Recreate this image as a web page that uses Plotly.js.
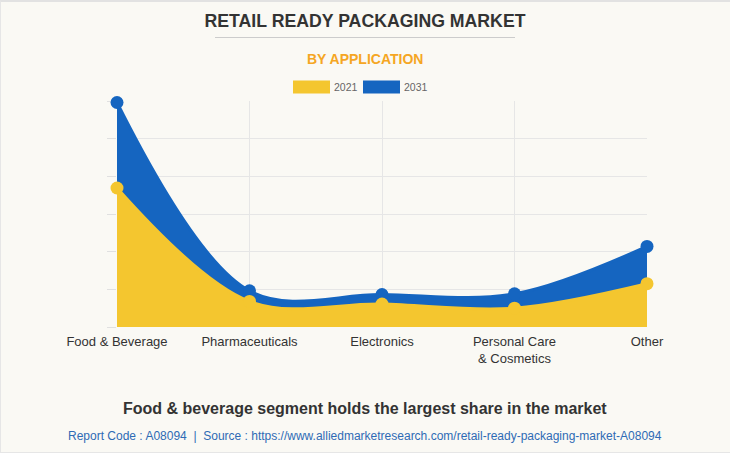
<!DOCTYPE html>
<html>
<head>
<meta charset="utf-8">
<script src="https://cdn.plot.ly/plotly-3.0.1.min.js"></script>
<style>
  html, body { margin: 0; padding: 0; background: #FAF9F4; }
  #wrap { position: relative; width: 730px; height: 453px; }
  #chart { width: 730px; height: 453px; }
  #frame { position: absolute; left: 0; top: 0; width: 730px; height: 453px; box-sizing: border-box;
           border-top: 2px solid #e2e2e2; border-left: 1px solid #e6e6e6; border-bottom: 1px solid #e6e6e6;
           pointer-events: none; }
</style>
</head>
<body>
<div id="wrap"><div id="chart"></div><div id="frame"></div></div>
<script>
const categories = ['Food & Beverage', 'Pharmaceuticals', 'Electronics', 'Personal Care<br>& Cosmetics', 'Other'];
const seriesNames = ['2021', '2031'];
const values2021 = [3.69, 0.68, 0.61, 0.50, 1.15];
const values2031 = [5.96, 0.96, 0.86, 0.88, 2.14];
const colors = { '2021': '#F4C62F', '2031': '#1565C0' };

const W = 730, H = 453;
const M = { l: 117, r: 83, t: 101, b: 126 };
const PW = W - M.l - M.r, PH = H - M.t - M.b;
const px = x => (x - M.l) / PW;
const py = y => (H - M.b - y) / PH;

const FONT = 'Liberation Sans, Arial, sans-serif';

function trace(name, vals) {
  return {
    type: 'scatter', mode: 'lines+markers', name: name,
    x: categories, y: vals,
    line: { shape: 'spline', smoothing: 1, color: colors[name], width: 3 },
    marker: { size: 13, color: colors[name] },
    fill: 'tozeroy', fillcolor: colors[name],
    cliponaxis: false, showlegend: false, hoverinfo: 'x+y'
  };
}

const data = [trace('2031', values2031), trace('2021', values2021)];

const legendItems = [
  { name: seriesNames[0], x0: 293, x1: 330, tx: 332 },
  { name: seriesNames[1], x0: 363, x1: 400, tx: 402 }
];

const shapes = [
  { type: 'line', xref: 'paper', yref: 'paper', x0: px(215), x1: px(515), y0: py(37.5), y1: py(37.5),
    line: { color: '#cccccc', width: 1 } }
];
const annotations = [
  { text: '<b>BY APPLICATION</b>', xref: 'paper', yref: 'paper', x: px(365), y: py(58.5),
    xanchor: 'center', yanchor: 'middle', showarrow: false,
    font: { family: FONT, size: 14, color: '#F5A623' } },
  { text: '<b>Food & beverage segment holds the largest share in the market</b>', xref: 'paper', yref: 'paper',
    x: px(365), y: py(408), xanchor: 'center', yanchor: 'middle', showarrow: false,
    font: { family: FONT, size: 16, color: '#333333' } },
  { text: 'Report Code : A08094  |  Source : https://www.alliedmarketresearch.com/retail-ready-packaging-market-A08094',
    xref: 'paper', yref: 'paper', x: px(365), y: py(436), xanchor: 'center', yanchor: 'middle', showarrow: false,
    font: { family: FONT, size: 12, color: '#2E6BB5' } }
];
legendItems.forEach(it => {
  shapes.push({ type: 'rect', xref: 'paper', yref: 'paper', x0: px(it.x0), x1: px(it.x1), y0: py(93.5), y1: py(80.5),
    fillcolor: colors[it.name], line: { width: 0 } });
  annotations.push({ text: it.name, xref: 'paper', yref: 'paper', x: px(it.tx), y: py(87),
    xanchor: 'left', yanchor: 'middle', showarrow: false, font: { family: FONT, size: 10.5, color: '#666666' } });
});

const layout = {
  width: W, height: H,
  margin: M,
  paper_bgcolor: '#FAF9F4', plot_bgcolor: '#FAF9F4',
  title: { text: '<b>RETAIL READY PACKAGING MARKET</b>', xref: 'container', yref: 'container',
    x: 0.5, xanchor: 'center', y: 1 - 21 / H, yanchor: 'middle',
    font: { family: FONT, size: 17.7, color: '#333333' } },
  xaxis: {
    type: 'category', range: [0, 4], showgrid: true, gridcolor: '#e6e6e6', gridwidth: 1,
    zeroline: false, showline: false, ticks: '', fixedrange: true, ticklabelstandoff: 5,
    tickfont: { family: FONT, size: 13, color: '#333333' }
  },
  yaxis: {
    range: [0, 6], dtick: 1, showgrid: true, gridcolor: '#e6e6e6', gridwidth: 1,
    zeroline: false, showline: false, showticklabels: false, layer: 'below traces',
    ticks: 'outside', ticklen: 9, tickcolor: '#e0e0e0', tickwidth: 1, fixedrange: true
  },
  shapes: shapes,
  annotations: annotations,
  showlegend: false
};

Plotly.newPlot('chart', data, layout, { displayModeBar: false, staticPlot: true });
</script>
</body>
</html>
